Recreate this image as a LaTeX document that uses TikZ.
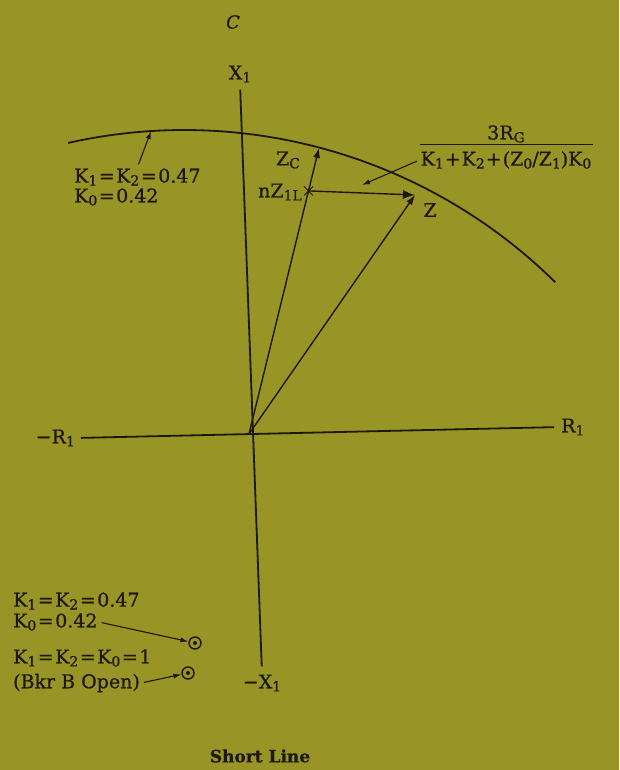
\documentclass[tikz,border=0pt]{standalone}
\usepackage{fontspec}
\setmainfont[FakeBold=0.7]{DejaVu Serif}
\usetikzlibrary{arrows.meta,calc}

\definecolor{paper}{RGB}{153,148,38}
\definecolor{ink}{RGB}{28,24,14}
\newcommand\lo[1]{\raisebox{-0.3ex}{\fontsize{14}{14}\selectfont #1}}
\newcommand\eq{\kern1.5pt=\kern1.5pt}
\newcommand\pl{\kern1pt+\kern1pt}

\tikzset{
  axis/.style={ink, line width=1.8pt},
  vec/.style={ink, line width=1.4pt, -{Latex[length=10pt,width=7pt]}},
  lead/.style={ink, line width=1.1pt, shorten <=3pt, -{Latex[length=8pt,width=5pt]}},
  lbl/.style={inner sep=1pt, text=ink, font=\fontsize{19}{21}\selectfont},
  probe/.style={circle, draw=ink, line width=1.4pt, minimum size=12pt, inner sep=0pt,
    path picture={\fill[ink] (path picture bounding box.center) circle (2pt);}},
}

\begin{document}
\begin{tikzpicture}[x=1pt, y=1pt]
    \fill[paper] (0,0) rectangle (619,-770);
    \useasboundingbox (0,0) rectangle (619,-770);

    % Axes
    \coordinate (O) at (249,-434);
    \node[lbl, anchor=east] (rneg) at (76,-438) {−R\lo{1}};
    \node[lbl, anchor=west] (rpos) at (560,-427) {R\lo{1}};
    \node[lbl] (xpos) at (240,-74) {X\lo{1}};
    \node[lbl] (xneg) at (262,-683) {−X\lo{1}};
    \draw[axis, shorten <=5pt, shorten >=6pt] (rneg.east) -- (rpos.west);
    \draw[axis, shorten <=6pt, shorten >=7pt] (xpos.south) -- (xneg.north);
    \node[lbl, font=\itshape\fontsize{18}{20}\selectfont] (ctag) at (233,-22) {C};

    % Locus
    \coordinate (ctr) at (184.25,-658.3);
    \draw[axis] ($(ctr)+(102.7:528.3pt)$) arc[start angle=102.7, end angle=45.4, radius=528.3pt];
    \coordinate (arcpt) at ($(ctr)+(93.6:528.3pt)$);

    % Impedances
    \coordinate (zc) at (319,-148);
    \coordinate (z) at (415,-195);
    \coordinate (nz) at ($(O)!0.85!(zc)$);
    \draw[vec] (O) -- (zc);
    \draw[vec] (O) -- (z);
    \draw[vec, -{Latex[length=12pt,width=9pt]}] (nz) -- (z);
    \draw[ink, line width=0.9pt] ($(nz)+(-4.5,-4.5)$) -- ($(nz)+(4.5,4.5)$) ($(nz)+(-4.5,4.5)$) -- ($(nz)+(4.5,-4.5)$);
    \node[lbl] (zclbl) at (288,-160) {Z\lo{C}};
    \node[lbl, anchor=east] (nzlbl) at (303,-192) {nZ\lo{1L}};
    \node[lbl] (zlbl) at (430,-210) {Z};

    % Compensation term
    \node[lbl] (den) at (506,-160) {K\lo{1}\pl K\lo{2}\pl(Z\lo{0}/Z\lo{1})K\lo{0}};
    \node[lbl] (num) at (506,-134) {3R\lo{G}};
    \draw[ink, line width=0.5pt] ([yshift=6pt]den.north west) -- ([yshift=6pt]den.north east);
    \coordinate (fracpt) at (362,-185);
    \draw[lead] (den.west) -- (fracpt);

    % Arc setting
    \node[lbl, anchor=west] (k12a) at (73,-177) {K\lo{1}\eq K\lo{2}\eq 0.47};
    \node[lbl, anchor=west] (k0a) at (73,-197) {K\lo{0}\eq 0.42};
    \draw[lead] (k12a.north) -- (arcpt);

    % Fault points
    \node[probe] (dot1) at (195,-643) {};
    \node[probe] (dot2) at (188,-673) {};
    \node[lbl, anchor=west] (k12b) at (12,-601) {K\lo{1}\eq K\lo{2}\eq 0.47};
    \node[lbl, anchor=west] (k0b) at (12,-622) {K\lo{0}\eq 0.42};
    \node[lbl, anchor=west] (k120) at (12,-658) {K\lo{1}\eq K\lo{2}\eq K\lo{0}\eq 1};
    \node[lbl, anchor=west] (bkr) at (12,-683) {(Bkr B Open)};
    \draw[lead] (k0b.east) -- (dot1);
    \draw[lead] (bkr.east) -- (dot2);

    \node[lbl, font=\bfseries\fontsize{17}{19}\selectfont] (title) at (260,-756) {Short Line};
\end{tikzpicture}
\end{document}
